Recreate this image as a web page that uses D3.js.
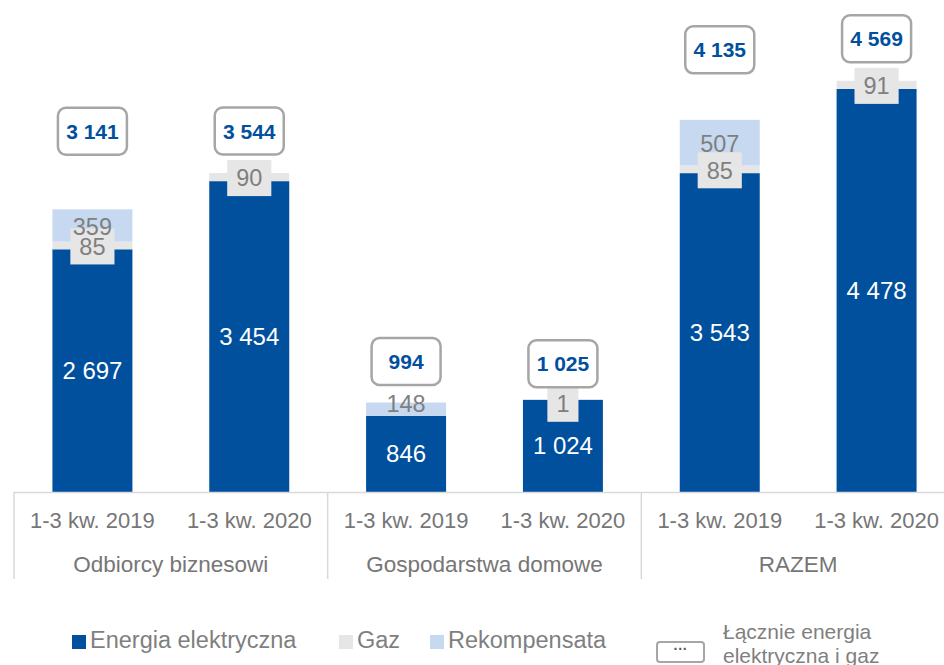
<!DOCTYPE html>
<html>
<head>
<meta charset="utf-8">
<script src="https://cdn.jsdelivr.net/npm/d3@7"></script>
<style>
  body { margin: 0; background: #fff; }
  svg { display: block; font-family: "Liberation Sans", Arial, sans-serif; }
</style>
</head>
<body>
<div id="chart"></div>
<script>
// data
const groups = ["Odbiorcy biznesowi", "Gospodarstwa domowe", "RAZEM"];
const periods = ["1-3 kw. 2019", "1-3 kw. 2020"];
const energia = [2697, 3454, 846, 1024, 3543, 4478];
const gaz = [85, 90, 0, 1, 85, 91];
const rekompensata = [359, 0, 148, 0, 507, 0];
const lacznie = [3141, 3544, 994, 1025, 4135, 4569];

// where the total boxes sit above the bars (px), placed by hand in the original
const labelLift = [54, 18, 17, 12, 46, 18];

const width = 944, height = 665;
const baseY = 492;
const blue = "#00509e", grey = "#e6e6e6", lightBlue = "#c6d9f0";

const rows = energia.map((e, i) => ({
    i: i,
    group: groups[Math.floor(i / 2)],
    period: periods[i % 2],
    energia: e, gaz: gaz[i], rekompensata: rekompensata[i], total: lacznie[i]
}));

const fmt = d3.formatLocale({decimal: ",", thousands: " ", grouping: [3], currency: ["", ""]}).format(",d");

const svg = d3.select("#chart").append("svg")
    .attr("width", width)
    .attr("height", height);

const x = d3.scaleBand()
    .domain(rows.map(d => d.i))
    .range([14, 955])
    .paddingInner(0.49)
    .paddingOuter(0.245);

const xGroup = d3.scaleBand()
    .domain(groups)
    .range([14, 955]);

const y = d3.scaleLinear()
    .domain([0, 5000])
    .range([baseY, 42]);

const keys = ["energia", "gaz", "rekompensata"];
const colors = {energia: blue, gaz: grey, rekompensata: lightBlue};
const stacked = d3.stack().keys(keys)(rows);

// bars
svg.append("g").selectAll("g")
    .data(stacked)
    .join("g")
    .attr("fill", s => colors[s.key])
    .selectAll("rect")
    .data(s => s.filter(d => d[1] > d[0]))
    .join("rect")
        .attr("x", d => x(d.data.i))
        .attr("y", d => y(d[1]))
        .attr("width", x.bandwidth())
        .attr("height", d => y(d[0]) - y(d[1]));

// axis line + group separators
svg.append("line")
    .attr("x1", 14).attr("x2", width)
    .attr("y1", baseY + 0.5).attr("y2", baseY + 0.5)
    .attr("stroke", "#d9d9d9").attr("stroke-width", 1.5);

svg.append("g").selectAll("line")
    .data(groups.concat(["end"]))
    .join("line")
        .attr("x1", (d, i) => i < groups.length ? xGroup(d) : 955)
        .attr("x2", (d, i) => i < groups.length ? xGroup(d) : 955)
        .attr("y1", baseY)
        .attr("y2", 579)
        .attr("stroke", "#d9d9d9").attr("stroke-width", 1.5);

// period labels
svg.append("g").selectAll("text")
    .data(rows)
    .join("text")
        .attr("x", d => x(d.i) + x.bandwidth() / 2)
        .attr("y", 528)
        .attr("text-anchor", "middle")
        .attr("font-size", 22)
        .attr("fill", "#767676")
        .text(d => d.period);

// group labels
svg.append("g").selectAll("text")
    .data(groups)
    .join("text")
        .attr("x", d => xGroup(d) + xGroup.bandwidth() / 2)
        .attr("y", 572)
        .attr("text-anchor", "middle")
        .attr("font-size", 22.5)
        .attr("fill", "#767676")
        .text(d => d);

const cx = d => x(d.i) + x.bandwidth() / 2;

// energia labels
svg.append("g").selectAll("text")
    .data(rows)
    .join("text")
        .attr("x", cx)
        .attr("y", d => y(d.energia / 2))
        .attr("dy", "0.35em")
        .attr("text-anchor", "middle")
        .attr("font-size", 24)
        .attr("fill", "#fff")
        .text(d => fmt(d.energia));

// gaz labels in grey boxes
const gazLabels = svg.append("g").selectAll("g")
    .data(rows.filter(d => d.gaz > 0))
    .join("g")
    .attr("transform", d => `translate(${cx(d)},${y(d.energia + d.gaz / 2) + (d.gaz < 5 ? 4 : 1)})`);

gazLabels.append("text")
    .attr("text-anchor", "middle")
    .attr("dy", "0.35em")
    .attr("font-size", 23.5)
    .attr("fill", "#7f7f7f")
    .text(d => fmt(d.gaz))
    .each(function(d) { d.tw = this.getComputedTextLength(); });

gazLabels.insert("rect", "text")
    .attr("x", d => -d.tw / 2 - 9)
    .attr("y", -18)
    .attr("width", d => d.tw + 18)
    .attr("height", 36)
    .attr("fill", grey);

// rekompensata labels (a thin segment gets its label on its top edge)
svg.append("g").selectAll("text")
    .data(rows.filter(d => d.rekompensata > 0))
    .join("text")
        .attr("x", cx)
        .attr("y", d => {
            const top = y(d.energia + d.gaz + d.rekompensata);
            const mid = y(d.energia + d.gaz + d.rekompensata / 2);
            return (y(d.energia + d.gaz) - top < 20 ? top : mid) + 1;
        })
        .attr("dy", "0.35em")
        .attr("text-anchor", "middle")
        .attr("font-size", 23.5)
        .attr("fill", "#7f7f7f")
        .text(d => fmt(d.rekompensata));

// total boxes
const totals = svg.append("g").selectAll("g")
    .data(rows)
    .join("g")
    .attr("transform", d => `translate(${cx(d)},${y(d.total) - labelLift[d.i] - 24})`);

totals.append("rect")
    .attr("x", -34.5).attr("y", -23.5)
    .attr("width", 69).attr("height", 47)
    .attr("rx", 8)
    .attr("fill", "#fff")
    .attr("stroke", "#a6a6a6")
    .attr("stroke-width", 2.5);

totals.append("text")
    .attr("text-anchor", "middle")
    .attr("dy", "0.36em")
    .attr("font-size", 21)
    .attr("font-weight", "bold")
    .attr("fill", blue)
    .text(d => fmt(d.total));

// legend
const legend = svg.append("g").attr("font-size", 23.5).attr("fill", "#7f7f7f");
const legendItems = [
    {label: "Energia elektryczna", color: blue, x: 72},
    {label: "Gaz", color: grey, x: 339},
    {label: "Rekompensata", color: lightBlue, x: 430}
];
const li = legend.selectAll("g")
    .data(legendItems)
    .join("g")
    .attr("transform", d => `translate(${d.x},0)`);
li.append("rect")
    .attr("y", 635).attr("width", 14).attr("height", 14)
    .attr("fill", d => d.color);
li.append("text")
    .attr("x", 18).attr("y", 648)
    .text(d => d.label);

legend.append("rect")
    .attr("x", 657).attr("y", 642)
    .attr("width", 47).attr("height", 20)
    .attr("rx", 3)
    .attr("fill", "#fff")
    .attr("stroke", "#a6a6a6")
    .attr("stroke-width", 2);
legend.append("text")
    .attr("x", 680.5).attr("y", 654)
    .attr("text-anchor", "middle")
    .attr("font-size", 14)
    .attr("font-weight", "bold")
    .attr("fill", "#595959")
    .text("···");
legend.append("text")
    .attr("x", 723).attr("y", 639)
    .attr("font-size", 21)
    .text("Łącznie energia");
legend.append("text")
    .attr("x", 723).attr("y", 663)
    .attr("font-size", 21)
    .text("elektryczna i gaz");
</script>
</body>
</html>
